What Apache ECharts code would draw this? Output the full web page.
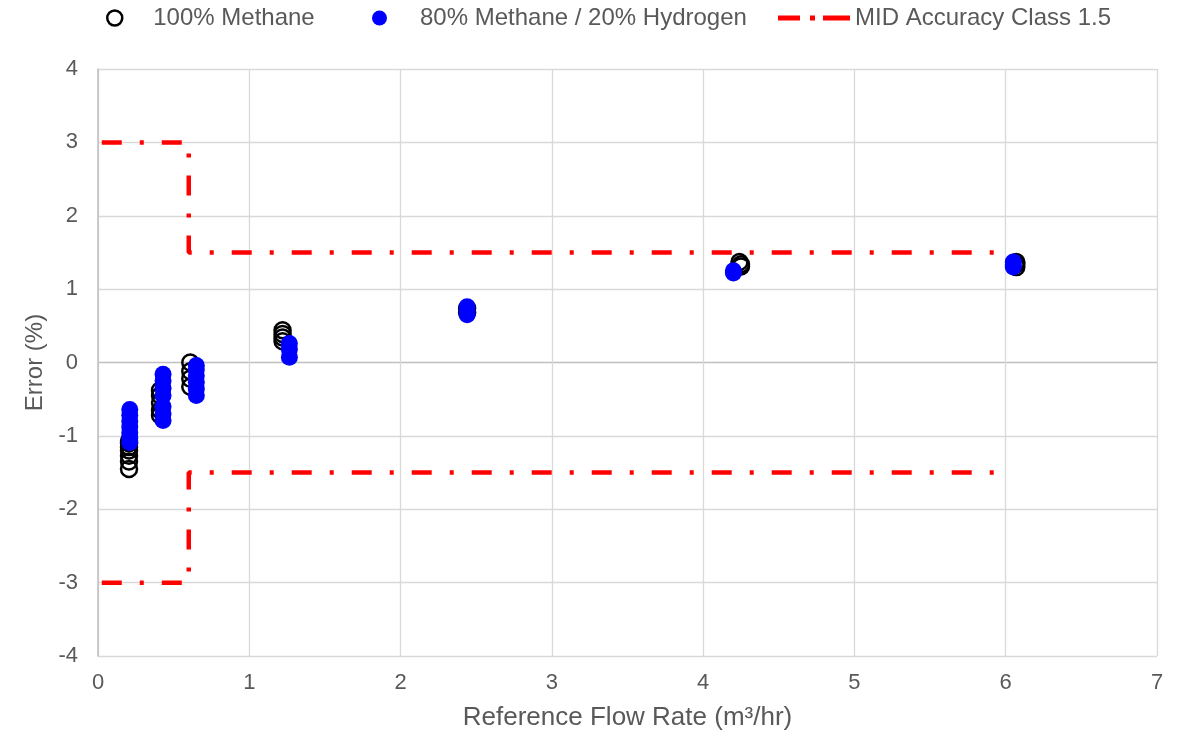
<!DOCTYPE html>
<html>
<head>
<meta charset="utf-8">
<script src="https://cdn.jsdelivr.net/npm/echarts@6/dist/echarts.min.js"></script>
<style>html,body{margin:0;padding:0;background:#fff;}#c{width:1186px;height:740px;}</style>
</head>
<body>
<div id="c"></div>
<script>
const seriesNames = ['100% Methane', '80% Methane / 20% Hydrogen', 'MID Accuracy Class 1.5'];
const methane = [
  [0.205,-1.07],[0.205,-1.10],[0.205,-1.15],[0.205,-1.20],[0.205,-1.27],[0.205,-1.35],[0.205,-1.45],
  [0.41,-0.38],[0.41,-0.45],[0.41,-0.55],[0.41,-0.65],[0.41,-0.72],
  [0.61,0.00],[0.61,-0.12],[0.61,-0.22],[0.61,-0.33],
  [1.22,0.44],[1.22,0.39],[1.22,0.34],[1.22,0.29],
  [2.44,0.74],[2.44,0.68],
  [4.24,1.37],[4.25,1.34],[4.25,1.31],
  [6.07,1.37],[6.07,1.34],[6.07,1.30]
];
const hydrogen = [
  [0.21,-0.64],[0.21,-0.72],[0.21,-0.80],[0.21,-0.88],[0.21,-0.96],[0.21,-1.03],[0.21,-1.09],
  [0.43,-0.16],[0.43,-0.25],[0.43,-0.35],[0.43,-0.45],[0.43,-0.60],[0.43,-0.70],[0.43,-0.79],
  [0.65,-0.04],[0.65,-0.10],[0.65,-0.18],[0.65,-0.27],[0.65,-0.36],[0.65,-0.45],
  [1.265,0.26],[1.265,0.18],[1.265,0.07],
  [2.44,0.76],[2.44,0.70],[2.44,0.65],
  [4.20,1.25],[4.20,1.22],
  [6.05,1.37],[6.05,1.33],[6.05,1.30]
];
const midUpper = [[0.025,3],[0.6,3],[0.6,1.5],[6,1.5]];
const midLower = [[0.025,-3],[0.6,-3],[0.6,-1.5],[6,-1.5]];
const xMin = 0, xMax = 7, xStep = 1;
const yMin = -4, yMax = 4, yStep = 1;

const txt = '#595959';
const font = 'Liberation Sans, Arial, sans-serif';
const chart = echarts.init(document.getElementById('c'), null, {renderer: 'canvas'});
const dash = [20, 18, 4, 18];
const gridColors = ['#d9d9d9','#d9d9d9','#d9d9d9','#d9d9d9','#bfbfbf','#d9d9d9','#d9d9d9','#d9d9d9','#d9d9d9'];
const legendText = {color: txt, fontSize: 24, fontFamily: font};
chart.setOption({
  animation: false,
  backgroundColor: '#fff',
  textStyle: {fontFamily: font},
  legend: [
    {left: 106, top: 6, padding: 0, itemWidth: 15, itemHeight: 15,
     data: [{name: seriesNames[0], icon: 'circle', itemStyle: {color: 'rgba(0,0,0,0)', borderColor: '#000', borderWidth: 2.5}}],
     textStyle: Object.assign({padding: [0,0,0,26]}, legendText)},
    {left: 372, top: 6, padding: 0, itemWidth: 15, itemHeight: 15,
     data: [{name: seriesNames[1], icon: 'circle', itemStyle: {color: '#0000ff', borderWidth: 0, opacity: 1}}],
     textStyle: Object.assign({padding: [0,0,0,28]}, legendText)},
    {left: 778, top: 6, padding: 0, itemWidth: 72, itemHeight: 5,
     data: [{name: seriesNames[2], icon: 'path://M0,0H22V5H0Z M32,0H37V5H32Z M45,0H72V5H45Z', itemStyle: {color: '#ff0000', borderWidth: 0}}],
     textStyle: legendText}
  ],
  grid: {left: 98, right: 29, top: 69, bottom: 84, containLabel: false},
  xAxis: {
    type: 'value', min: xMin, max: xMax, interval: xStep,
    name: 'Reference Flow Rate (m³/hr)', nameLocation: 'middle', nameGap: 49,
    nameTextStyle: {color: txt, fontSize: 26, fontFamily: font},
    axisLine: {show: false}, axisTick: {show: false},
    axisLabel: {color: txt, fontSize: 22, fontFamily: font, margin: 16},
    splitLine: {show: true, lineStyle: {color: '#d9d9d9', width: 1.3}}
  },
  yAxis: {
    type: 'value', min: yMin, max: yMax, interval: yStep,
    name: 'Error (%)', nameLocation: 'middle', nameGap: 50,
    nameTextStyle: {color: txt, fontSize: 24, fontFamily: font},
    axisLine: {show: true, onZero: false, lineStyle: {color: '#bfbfbf', width: 1.5}},
    axisTick: {show: false},
    axisLabel: {color: txt, fontSize: 22, fontFamily: font, margin: 20},
    splitLine: {show: true, lineStyle: {color: gridColors, width: 1.3}}
  },
  series: [
    {name: seriesNames[2], type: 'line', data: midUpper, symbol: 'none', z: 2,
     lineStyle: {color: '#ff0000', width: 4.5, type: dash, cap: 'butt'}, itemStyle: {color: '#ff0000'}},
    {name: seriesNames[2], type: 'line', data: midLower, symbol: 'none', z: 2,
     lineStyle: {color: '#ff0000', width: 4.5, type: dash, cap: 'butt'}, itemStyle: {color: '#ff0000'}},
    {name: seriesNames[0], type: 'scatter', data: methane, symbol: 'circle', symbolSize: 16, z: 3,
     itemStyle: {color: 'rgba(0,0,0,0)', borderColor: '#000', borderWidth: 2.5, opacity: 1}},
    {name: seriesNames[1], type: 'scatter', data: hydrogen, symbol: 'circle', symbolSize: 17, z: 4,
     itemStyle: {color: '#0000ff', opacity: 1}}
  ]
});
</script>
</body>
</html>
